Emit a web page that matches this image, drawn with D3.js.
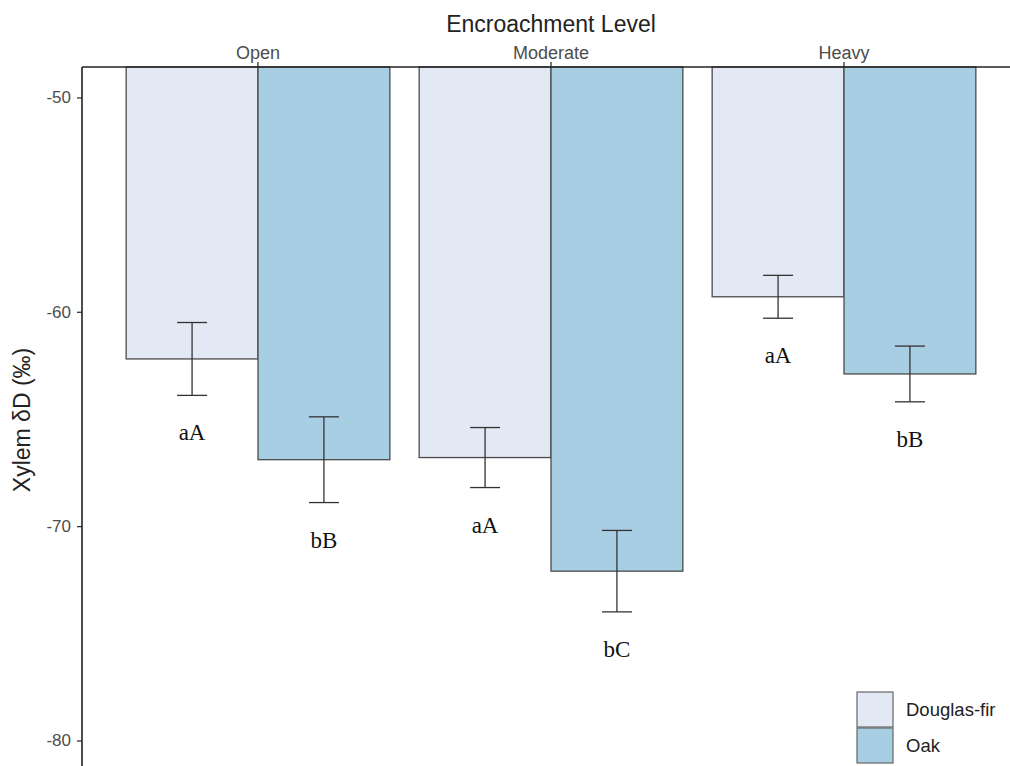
<!DOCTYPE html>
<html>
<head>
<meta charset="utf-8">
<script src="https://cdn.jsdelivr.net/npm/d3@7"></script>
<style>
  html, body { margin: 0; padding: 0; background: #ffffff; }
  svg { display: block; }
</style>
</head>
<body>
<svg id="chart" width="1010" height="766"></svg>
<script>
// Encroachment levels (top axis) and tree species (legend)
const levels = ["Open", "Moderate", "Heavy"];
const species = ["Douglas-fir", "Oak"];

// Mean xylem δD (‰) per level, one array per species
const douglasFirMean = [-62.2, -66.8, -59.3];
const oakMean = [-66.9, -72.1, -62.9];

// Standard error per level
const douglasFirSE = [1.7, 1.4, 1.0];
const oakSE = [2.0, 1.9, 1.3];

// Significance letters per level
const douglasFirLetters = ["aA", "aA", "aA"];
const oakLetters = ["bB", "bC", "bB"];

// Y axis ticks
const yTicks = [-50, -60, -70, -80];

const speciesColor = { "Douglas-fir": "#e2e9f5", "Oak": "#a7cee2" };

const rows = [];
levels.forEach((lvl, i) => {
  rows.push({ level: lvl, species: "Douglas-fir", mean: douglasFirMean[i], se: douglasFirSE[i], letter: douglasFirLetters[i] });
  rows.push({ level: lvl, species: "Oak", mean: oakMean[i], se: oakSE[i], letter: oakLetters[i] });
});

const svg = d3.select("#chart");
const panel = { left: 82, top: 67, right: 1010, bottom: 766 };
const sans = "Arial, 'Liberation Sans', sans-serif";

const x = d3.scaleBand().domain(levels).range([111.5, 990.5]).paddingInner(0.1).paddingOuter(0.05);
const xs = d3.scaleBand().domain(species).range([0, x.bandwidth()]);
const y = d3.scaleLinear().domain([-48.58, -81.19]).range([panel.top, panel.bottom]);

// Bars hang from the top edge of the panel down to each mean
const g = svg.append("g");
g.selectAll("rect.bar").data(rows).join("rect")
  .attr("class", "bar")
  .attr("x", d => x(d.level) + xs(d.species))
  .attr("y", panel.top)
  .attr("width", xs.bandwidth())
  .attr("height", d => y(d.mean) - panel.top)
  .attr("fill", d => speciesColor[d.species])
  .attr("stroke", "#4a4a4a")
  .attr("stroke-width", 1.3);

// Error bars
const capHalf = 15;
const eb = g.selectAll("g.err").data(rows).join("g").attr("class", "err")
  .attr("transform", d => `translate(${x(d.level) + xs(d.species) + xs.bandwidth() / 2},0)`);
eb.append("line").attr("x1", 0).attr("x2", 0)
  .attr("y1", d => y(d.mean + d.se)).attr("y2", d => y(d.mean - d.se));
eb.append("line").attr("x1", -capHalf).attr("x2", capHalf)
  .attr("y1", d => y(d.mean + d.se)).attr("y2", d => y(d.mean + d.se));
eb.append("line").attr("x1", -capHalf).attr("x2", capHalf)
  .attr("y1", d => y(d.mean - d.se)).attr("y2", d => y(d.mean - d.se));
eb.selectAll("line").attr("stroke", "#333").attr("stroke-width", 1.3);

// Letters below each error bar
g.selectAll("text.letter").data(rows).join("text")
  .attr("class", "letter")
  .attr("x", d => x(d.level) + xs(d.species) + xs.bandwidth() / 2)
  .attr("y", d => y(d.mean - d.se) + 45)
  .attr("text-anchor", "middle")
  .attr("font-family", "'Liberation Serif', 'Times New Roman', serif")
  .attr("font-size", 23)
  .attr("fill", "#111")
  .text(d => d.letter);

// Top axis with level names
const xAxis = svg.append("g").attr("transform", `translate(0,${panel.top})`)
  .call(d3.axisTop(x).tickSize(5).tickPadding(3));
xAxis.select(".domain").remove();
xAxis.selectAll(".tick line").attr("stroke", "#333").attr("stroke-width", 1.3);
xAxis.selectAll(".tick text")
  .attr("font-family", sans)
  .attr("font-size", 18).attr("fill", "#4d4d4d");
svg.append("line").attr("x1", panel.left).attr("x2", panel.right).attr("y1", panel.top).attr("y2", panel.top)
  .attr("stroke", "#222").attr("stroke-width", 1.6);

// Left axis
const yAxis = svg.append("g").attr("transform", `translate(${panel.left},0)`)
  .call(d3.axisLeft(y).tickValues(yTicks).tickSize(5).tickPadding(6).tickFormat(d => "-" + Math.abs(d)));
yAxis.select(".domain").remove();
yAxis.selectAll(".tick line").attr("stroke", "#333").attr("stroke-width", 1.3);
yAxis.selectAll(".tick text")
  .attr("font-family", sans)
  .attr("font-size", 17).attr("fill", "#4d4d4d");
svg.append("line").attr("x1", panel.left).attr("x2", panel.left).attr("y1", panel.top).attr("y2", panel.bottom)
  .attr("stroke", "#222").attr("stroke-width", 1.6);

// Axis titles
svg.append("text")
  .attr("x", x("Moderate") + x.bandwidth() / 2).attr("y", 32)
  .attr("text-anchor", "middle")
  .attr("font-family", sans)
  .attr("font-size", 23).attr("fill", "#222")
  .text("Encroachment Level");
svg.append("text")
  .attr("transform", "translate(30,420) rotate(-90)")
  .attr("text-anchor", "middle")
  .attr("font-family", sans)
  .attr("font-size", 23).attr("fill", "#222")
  .text("Xylem δD (‰)");

// Legend
const legend = svg.append("g").attr("transform", "translate(857,692)");
const key = legend.selectAll("g").data(species).join("g")
  .attr("transform", (d, i) => `translate(0,${i * 36})`);
key.append("rect").attr("width", 36).attr("height", 35)
  .attr("fill", d => speciesColor[d]).attr("stroke", "#666").attr("stroke-width", 1.2);
key.append("text").attr("x", 49).attr("y", 18).attr("dy", "0.35em")
  .attr("font-family", sans)
  .attr("font-size", 18.5).attr("fill", "#222")
  .text(d => d);
</script>
</body>
</html>
